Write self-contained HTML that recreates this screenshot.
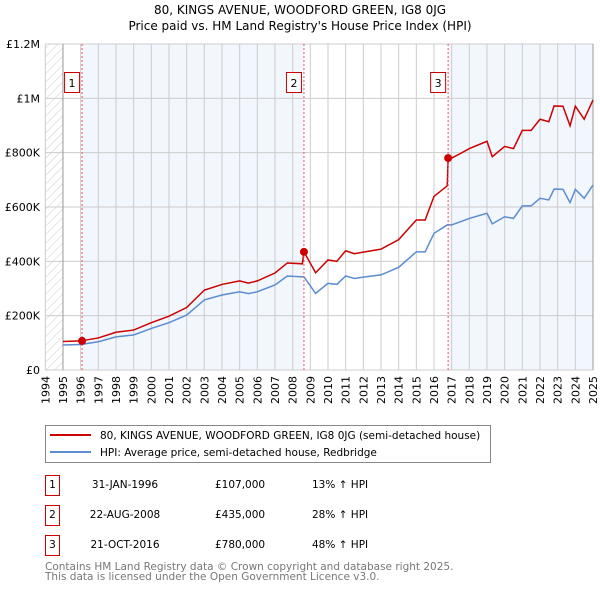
<!DOCTYPE html>
<html><head><meta charset="utf-8"><style>
body{margin:0;background:#fff;}
svg text{font-family:"DejaVu Sans","Liberation Sans",sans-serif;}
</style></head><body>
<svg id="chart" width="600" height="590" xmlns="http://www.w3.org/2000/svg">
<defs><pattern id="hatch" width="6" height="6" patternUnits="userSpaceOnUse" patternTransform="rotate(45)"><line x1="0" y1="0" x2="0" y2="6" stroke="#ccc" stroke-width="1"/></pattern></defs>
<text x="300" y="14" text-anchor="middle" font-size="12">80, KINGS AVENUE, WOODFORD GREEN, IG8 0JG</text>
<text x="300" y="30" text-anchor="middle" font-size="12">Price paid vs. HM Land Registry's House Price Index (HPI)</text>
<g id="plot"></g>
<g>
<rect x="45.5" y="425.5" width="445" height="37" fill="#fff" stroke="#888"/>
<line x1="50" y1="435" x2="91" y2="435" stroke="#cc0000" stroke-width="2"/>
<text x="100" y="439" font-size="10.5">80, KINGS AVENUE, WOODFORD GREEN, IG8 0JG (semi-detached house)</text>
<line x1="50" y1="452" x2="91" y2="452" stroke="#5b8dd0" stroke-width="2"/>
<text x="100" y="456" font-size="10.5">HPI: Average price, semi-detached house, Redbridge</text>
</g>
<g id="table" font-size="10.5"></g>
<text x="45" y="570" font-size="10.5" fill="#777">Contains HM Land Registry data © Crown copyright and database right 2025.</text>
<text x="45" y="580" font-size="10.5" fill="#777">This data is licensed under the Open Government Licence v3.0.</text>
</svg>
<script>
const hpiDates=[1995.0,1996.0,1997.0,1998.0,1999.0,2000.0,2001.0,2002.0,2003.0,2004.0,2005.0,2005.5,2006.0,2007.0,2007.7,2008.55,2008.64,2009.3,2010.0,2010.5,2011.0,2011.5,2012.0,2013.0,2014.0,2015.0,2015.5,2016.0,2016.75,2016.8,2017.0,2017.5,2018.0,2019.0,2019.3,2020.0,2020.5,2021.0,2021.5,2022.0,2022.5,2022.8,2023.3,2023.7,2024.0,2024.5,2025.0];
const hpiValues=[92,94,104,122,129,153,174,202,258,276,288,281,288,313,346,343,343,282,319,315,346,337,342,350,378,435,435,503,534,534,534,546,558,577,538,564,558,604,604,632,626,666,665,616,665,632,681];
const priceValues=[105,107,118,139,147,174,198,230,294,315,328,320,328,357,394,391,435,358,405,400,439,428,434,445,480,552,552,639,678,780,780,797,815,842,785,823,815,882,882,923,914,972,971,899,971,923,994];
const saleDates=[1996.08,2008.64,2016.8];
const saleValues=[107,435,780];
const saleLabels=["1","2","3"];
const saleDateText=["31-JAN-1996","22-AUG-2008","21-OCT-2016"];
const salePriceText=["£107,000","£435,000","£780,000"];
const saleHpiText=["13% ↑ HPI","28% ↑ HPI","48% ↑ HPI"];
const yTicks=[0,200,400,600,800,1000,1200];
const yTickLabels=["£0","£200K","£400K","£600K","£800K","£1M","£1.2M"];
const years=[];for(let y=1994;y<=2025;y++)years.push(y);

const X0=45.3,X1=593,Y0=370,Y1=44;
const xs=t=>X0+(t-1994)/(2025-1994)*(X1-X0);
const ys=v=>Y0-v/1200*(Y0-Y1);
const NS="http://www.w3.org/2000/svg";
function mk(tag,attrs,parent){const e=document.createElementNS(NS,tag);for(const k in attrs)e.setAttribute(k,attrs[k]);parent.appendChild(e);return e;}
const plot=document.getElementById('plot');
mk('rect',{x:X0,y:Y1,width:xs(1995)-X0,height:Y0-Y1,fill:'url(#hatch)'},plot);
const bands=[[saleDates[0],saleDates[1]],[saleDates[2],2025]];
bands.forEach(b=>{const r=mk('rect',{x:xs(b[0]),y:Y1,width:xs(b[1])-xs(b[0]),height:Y0-Y1,fill:'#eef3fc',opacity:0.75},plot);

});
years.forEach(y=>{mk('line',{x1:xs(y),x2:xs(y),y1:Y1,y2:Y0,stroke:'#ccc','stroke-width':1},plot);
const t=mk('text',{x:0,y:0,'font-size':11,'text-anchor':'end',transform:`translate(${xs(y)+4},${Y0+6}) rotate(-90)`},plot);t.textContent=y;

});
yTicks.forEach((v,i)=>{mk('line',{x1:X0,x2:X1,y1:ys(v),y2:ys(v),stroke:'#ccc','stroke-width':1},plot);
const t=mk('text',{x:40,y:ys(v)+4,'font-size':11,'text-anchor':'end'},plot);t.textContent=yTickLabels[i];

});
mk('line',{x1:xs(1995),x2:xs(1995),y1:Y1,y2:Y0,stroke:'#999','stroke-width':1},plot);
mk('line',{x1:X1,x2:X1,y1:Y1,y2:Y0,stroke:'#999','stroke-width':1},plot);
const hp=mk('polyline',{points:hpiDates.map((d,i)=>xs(d)+','+ys(hpiValues[i])).join(' '),fill:'none',stroke:'#5b8dd0','stroke-width':1.5},plot);


const pp=mk('polyline',{points:hpiDates.map((d,i)=>xs(d)+','+ys(priceValues[i])).join(' '),fill:'none',stroke:'#cc0000','stroke-width':1.5},plot);


saleDates.forEach((d,i)=>{const x=xs(d);
mk('line',{x1:x,x2:x,y1:Y1,y2:Y0,stroke:'#e55','stroke-width':1,'stroke-dasharray':'2,2'},plot);
const c=mk('circle',{cx:x,cy:ys(saleValues[i]),r:4,fill:'#cc0000'},plot);


const g=mk('g',{},plot);


mk('rect',{x:x-17.5,y:72.5,width:15,height:20,fill:'#fff',stroke:'#cc0000'},g);
const t=mk('text',{x:x-10,y:87,'font-size':11,'text-anchor':'middle'},g);t.textContent=saleLabels[i];});
const tb=document.getElementById('table');
saleLabels.forEach((l,i)=>{const y=475+i*30;
const g=mk('g',{},tb);


mk('rect',{x:45.5,y:y+0.5,width:14,height:20,fill:'#fff',stroke:'#cc0000'},g);
let t=mk('text',{x:52.5,y:y+13,'text-anchor':'middle'},g);t.textContent=l;
t=mk('text',{x:125,y:y+13,'text-anchor':'middle'},g);t.textContent=saleDateText[i];
t=mk('text',{x:215,y:y+13},g);t.textContent=salePriceText[i];
t=mk('text',{x:312,y:y+13},g);t.textContent=saleHpiText[i];});
</script>
</body></html>
